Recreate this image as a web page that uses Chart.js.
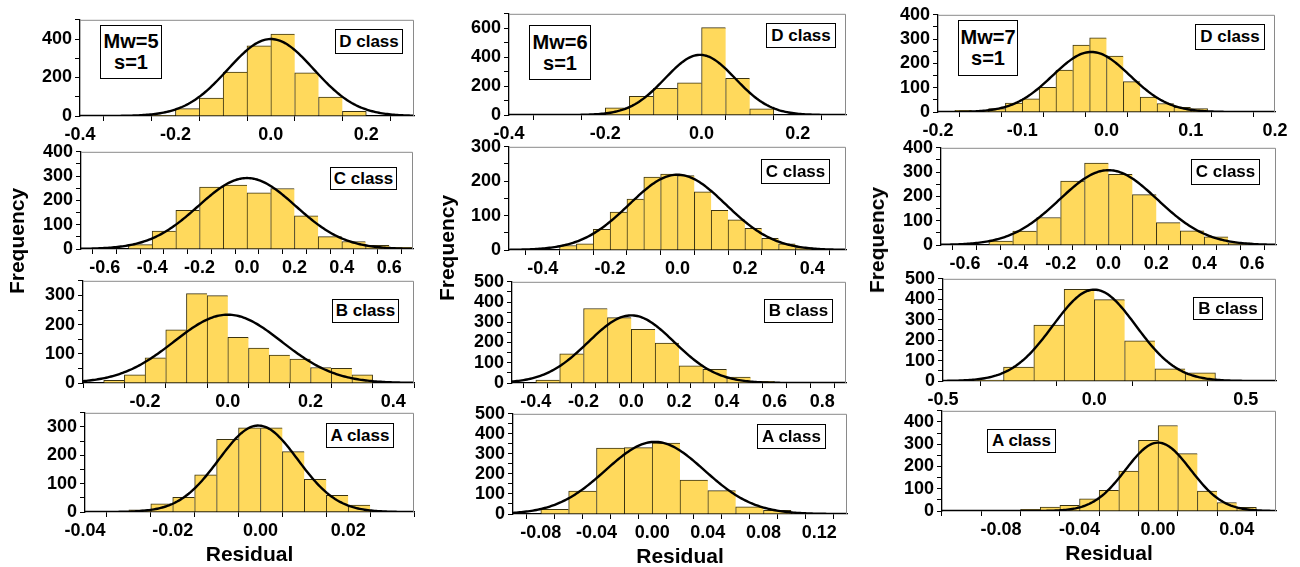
<!DOCTYPE html>
<html>
<head>
<meta charset="utf-8">
<script src="https://cdn.jsdelivr.net/npm/chart.js@4.4.1/dist/chart.umd.min.js"></script>
<style>
  body { margin: 0; background: #fff; overflow: hidden; }
  #page { position: relative; width: 1300px; height: 567px; font-family: 'Liberation Sans', Arial, sans-serif; font-weight: bold; color: #000; }
  canvas { position: absolute; }
  .tag { position: absolute; box-sizing: border-box; border: 1px solid #000; background: #fff; font-size: 17px;
         display: flex; align-items: center; justify-content: center; white-space: nowrap; }
  .mw { font-size: 20px; flex-direction: column; line-height: 21px; }
  .ylab { position: absolute; font-size: 21px; transform: translate(-50%, -50%) rotate(-90deg); white-space: nowrap; }
</style>
</head>
<body>
<div id="page">
  <div class="ylab" style="left:17px;top:241px">Frequency</div>
  <div class="ylab" style="left:447px;top:248px">Frequency</div>
  <div class="ylab" style="left:877px;top:240px">Frequency</div>

  <div class="tag mw" style="left:100px;top:25px;width:62px;height:54px"><span>Mw=5</span><span>s=1</span></div>
  <div class="tag mw" style="left:529px;top:25px;width:62px;height:55px"><span>Mw=6</span><span>s=1</span></div>
  <div class="tag mw" style="left:958px;top:20px;width:60px;height:56px"><span>Mw=7</span><span>s=1</span></div>

  <div class="tag" style="left:335px;top:29px;width:68px;height:25px">D class</div>
  <div class="tag" style="left:330px;top:167px;width:67px;height:23px">C class</div>
  <div class="tag" style="left:332px;top:299px;width:67px;height:24px">B class</div>
  <div class="tag" style="left:326px;top:423px;width:68px;height:25px">A class</div>

  <div class="tag" style="left:766px;top:23px;width:70px;height:25px">D class</div>
  <div class="tag" style="left:761px;top:159px;width:69px;height:25px">C class</div>
  <div class="tag" style="left:764px;top:299px;width:69px;height:24px">B class</div>
  <div class="tag" style="left:757px;top:424px;width:69px;height:25px">A class</div>

  <div class="tag" style="left:1195px;top:24px;width:70px;height:26px">D class</div>
  <div class="tag" style="left:1191px;top:159px;width:69px;height:26px">C class</div>
  <div class="tag" style="left:1193px;top:297px;width:70px;height:23px">B class</div>
  <div class="tag" style="left:987px;top:429px;width:69px;height:24px">A class</div>
</div>
<script>
// ================= DATA =================
// bin centres + counts, fit = [mean, sd, peak] of the normal curve

// Mw = 5
const mw5D_bins = [-0.225, -0.175, -0.125, -0.075, -0.025, 0.025, 0.075, 0.125, 0.175];
const mw5D_counts = [3, 38, 93, 228, 365, 426, 224, 98, 24];
const mw5D_fit = [0, 0.09, 400];

const mw5C_bins = [-0.55, -0.45, -0.35, -0.25, -0.15, -0.05, 0.05, 0.15, 0.25, 0.35, 0.45, 0.55, 0.65];
const mw5C_counts = [2, 18, 74, 159, 255, 263, 231, 249, 136, 51, 31, 15, 7];
const mw5C_fit = [0, 0.205, 292];

const mw5B_bins = [-0.275, -0.225, -0.175, -0.125, -0.075, -0.025, 0.025, 0.075, 0.125, 0.175, 0.225, 0.275, 0.325];
const mw5B_counts = [9, 28, 86, 182, 306, 299, 156, 120, 96, 82, 53, 50, 28];
const mw5B_fit = [0, 0.13, 234];

const mw5A_bins = [-0.0275, -0.0225, -0.0175, -0.0125, -0.0075, -0.0025, 0.0025, 0.0075, 0.0125, 0.0175, 0.0225, 0.0275];
const mw5A_counts = [8, 29, 52, 131, 256, 297, 297, 213, 115, 59, 24, 3];
const mw5A_fit = [-0.0005, 0.009, 305];

// Mw = 6
const mw6D_bins = [-0.175, -0.125, -0.075, -0.025, 0.025, 0.075, 0.125];
const mw6D_counts = [49, 130, 184, 222, 604, 254, 43];
const mw6D_fit = [-0.003, 0.073, 416];

const mw6C_bins = [-0.325, -0.275, -0.225, -0.175, -0.125, -0.075, -0.025, 0.025, 0.075, 0.125, 0.175, 0.225, 0.275, 0.325, 0.375];
const mw6C_counts = [13, 18, 60, 110, 148, 212, 221, 216, 169, 115, 88, 63, 34, 18, 7];
const mw6C_fit = [0, 0.143, 219];

const mw6B_bins = [-0.35, -0.25, -0.15, -0.05, 0.05, 0.15, 0.25, 0.35, 0.45, 0.55];
const mw6B_counts = [15, 144, 368, 323, 265, 197, 85, 68, 29, 8];
const mw6B_fit = [0, 0.18, 334];

const mw6A_bins = [-0.07, -0.05, -0.03, -0.01, 0.01, 0.03, 0.05, 0.07, 0.09, 0.11];
const mw6A_counts = [23, 114, 329, 331, 354, 169, 117, 36, 18, 3];
const mw6A_fit = [0.002, 0.0355, 360];

// Mw = 7
const mw7D_bins = [-0.17, -0.15, -0.13, -0.11, -0.09, -0.07, -0.05, -0.03, -0.01, 0.01, 0.03, 0.05, 0.07, 0.09, 0.11];
const mw7D_counts = [7, 3, 14, 37, 54, 102, 172, 275, 305, 230, 125, 61, 35, 19, 14];
const mw7D_fit = [-0.018, 0.046, 247];

const mw7C_bins = [-0.45, -0.35, -0.25, -0.15, -0.05, 0.05, 0.15, 0.25, 0.35, 0.45, 0.55];
const mw7C_counts = [16, 57, 113, 263, 337, 291, 207, 92, 58, 34, 9];
const mw7C_fit = [0, 0.205, 308];

const mw7B_bins = [-0.35, -0.25, -0.15, -0.05, 0.05, 0.15, 0.25, 0.35];
const mw7B_counts = [4, 68, 273, 448, 398, 197, 60, 40];
const mw7B_fit = [0, 0.137, 447];

const mw7A_bins = [-0.065, -0.055, -0.045, -0.035, -0.025, -0.015, -0.005, 0.005, 0.015, 0.025, 0.035, 0.045];
const mw7A_counts = [7, 18, 25, 55, 93, 179, 317, 384, 258, 89, 38, 16];
const mw7A_fit = [0, 0.0165, 307];

// ================= AXES =================
// x range, labelled x ticks, minor x step, decimals | y max, labelled y ticks, minor y step
const panels = [
  { id: 'mw5D', bins: mw5D_bins, counts: mw5D_counts, fit: mw5D_fit, x: [-0.4, 0.3], xTicks: [-0.4, -0.2, 0, 0.2], xMinor: 0.1, dp: 1, yMax: 500, yTicks: [0, 200, 400], yMinor: 100 },
  { id: 'mw5C', bins: mw5C_bins, counts: mw5C_counts, fit: mw5C_fit, x: [-0.7, 0.7], xTicks: [-0.6, -0.4, -0.2, 0, 0.2, 0.4, 0.6], xMinor: 0.1, dp: 1, yMax: 400, yTicks: [0, 100, 200, 300, 400], yMinor: 50 },
  { id: 'mw5B', bins: mw5B_bins, counts: mw5B_counts, fit: mw5B_fit, x: [-0.35, 0.45], xTicks: [-0.2, 0, 0.2, 0.4], xMinor: 0.1, dp: 1, yMax: 350, yTicks: [0, 100, 200, 300], yMinor: 50 },
  { id: 'mw5A', bins: mw5A_bins, counts: mw5A_counts, fit: mw5A_fit, x: [-0.04, 0.035], xTicks: [-0.04, -0.02, 0, 0.02], xMinor: 0.01, dp: 2, yMax: 350, yTicks: [0, 100, 200, 300], yMinor: 50, bottom: true },

  { id: 'mw6D', bins: mw6D_bins, counts: mw6D_counts, fit: mw6D_fit, x: [-0.4, 0.3], xTicks: [-0.4, -0.2, 0, 0.2], xMinor: 0.1, dp: 1, yMax: 700, yTicks: [0, 200, 400, 600], yMinor: 100 },
  { id: 'mw6C', bins: mw6C_bins, counts: mw6C_counts, fit: mw6C_fit, x: [-0.5, 0.5], xTicks: [-0.4, -0.2, 0, 0.2, 0.4], xMinor: 0.1, dp: 1, yMax: 300, yTicks: [0, 100, 200, 300], yMinor: 50 },
  { id: 'mw6B', bins: mw6B_bins, counts: mw6B_counts, fit: mw6B_fit, x: [-0.5, 0.9], xTicks: [-0.4, -0.2, 0, 0.2, 0.4, 0.6, 0.8], xMinor: 0.1, dp: 1, yMax: 500, yTicks: [0, 100, 200, 300, 400, 500], yMinor: 50 },
  { id: 'mw6A', bins: mw6A_bins, counts: mw6A_counts, fit: mw6A_fit, x: [-0.1, 0.14], xTicks: [-0.08, -0.04, 0, 0.04, 0.08, 0.12], xMinor: 0.02, dp: 2, yMax: 500, yTicks: [0, 100, 200, 300, 400, 500], yMinor: 50, bottom: true },

  { id: 'mw7D', bins: mw7D_bins, counts: mw7D_counts, fit: mw7D_fit, x: [-0.2, 0.2], xTicks: [-0.2, -0.1, 0, 0.1, 0.2], xMinor: 0.05, dp: 1, yMax: 400, yTicks: [0, 100, 200, 300, 400], yMinor: 50 },
  { id: 'mw7C', bins: mw7C_bins, counts: mw7C_counts, fit: mw7C_fit, x: [-0.7, 0.7], xTicks: [-0.6, -0.4, -0.2, 0, 0.2, 0.4, 0.6], xMinor: 0.1, dp: 1, yMax: 400, yTicks: [0, 100, 200, 300, 400], yMinor: 50 },
  { id: 'mw7B', bins: mw7B_bins, counts: mw7B_counts, fit: mw7B_fit, x: [-0.5, 0.6], xTicks: [-0.5, 0, 0.5], xMinor: 0.25, dp: 1, yMax: 500, yTicks: [0, 100, 200, 300, 400, 500], yMinor: 50 },
  { id: 'mw7A', bins: mw7A_bins, counts: mw7A_counts, fit: mw7A_fit, x: [-0.11, 0.06], xTicks: [-0.08, -0.04, 0, 0.04], xMinor: 0.02, dp: 2, yMax: 450, yTicks: [0, 100, 200, 300, 400], yMinor: 50, bottom: true }
];

// plot frame of each panel on the page: left, top, right, bottom
const frames = {
  mw5D: [80, 18, 414, 116],  mw5C: [81, 150, 413, 249],  mw5B: [83, 279, 414, 383],  mw5A: [85, 411, 414, 512],
  mw6D: [509, 12, 846, 115], mw6C: [509, 145, 846, 250], mw6B: [512, 280, 846, 383], mw6A: [513, 412, 847, 514],
  mw7D: [938, 13, 1275, 112], mw7C: [941, 146, 1276, 245], mw7B: [943, 277, 1276, 381], mw7A: [942, 409, 1276, 511]
};

const Y_AXIS_W = 48;
const PAD = { left: 2, right: 22, top: 12, bottom: 2 };
const FONT = { family: "'Liberation Sans', Arial, sans-serif", size: 18, weight: 'bold' };

// ================= HELPER =================
function near(v, list) {
  return list.some(t => Math.abs(t - v) < 1e-9);
}

function stepTicks(min, max, step) {
  const out = [];
  for (let k = Math.ceil(min / step - 1e-9); k * step <= max + 1e-9; k++) {
    out.push({ value: Math.round(k * step * 1e6) / 1e6 });
  }
  return out;
}

// normal fit drawn from the mean / sd / peak
function fitCurve(fit, xmin, xmax) {
  const [mu, sd, peak] = fit;
  const pts = [];
  for (let i = 0; i <= 200; i++) {
    const x = xmin + (xmax - xmin) * i / 200;
    pts.push({ x: x, y: peak * Math.exp(-0.5 * ((x - mu) / sd) ** 2) });
  }
  return pts;
}

// grey top/right edges of the box
const framePlugin = {
  id: 'frameBox',
  afterDraw(chart) {
    const { ctx, chartArea: a } = chart;
    ctx.save();
    ctx.strokeStyle = '#8a8a8a';
    ctx.lineWidth = 1;
    ctx.beginPath();
    ctx.moveTo(a.left, a.top + 0.5);
    ctx.lineTo(a.right - 0.5, a.top + 0.5);
    ctx.lineTo(a.right - 0.5, a.bottom);
    ctx.stroke();
    ctx.restore();
  }
};

// ================= CHARTS =================
const page = document.getElementById('page');

panels.forEach(p => {
  const [l, t, r, b] = frames[p.id];
  const xAxisH = p.bottom ? 56 : 28;

  const canvas = document.createElement('canvas');
  const w = (r - l) + Y_AXIS_W + PAD.left + PAD.right;
  const h = (b - t) + xAxisH + PAD.top + PAD.bottom;
  canvas.width = w;
  canvas.height = h;
  canvas.style.left = (l - Y_AXIS_W - PAD.left) + 'px';
  canvas.style.top = (t - PAD.top) + 'px';
  canvas.style.width = w + 'px';
  canvas.style.height = h + 'px';
  page.insertBefore(canvas, page.firstChild);

  const last = p.bins.length - 1;

  new Chart(canvas, {
    type: 'bar',
    data: {
      datasets: [
        {
          type: 'line',
          data: fitCurve(p.fit, p.x[0], p.x[1]),
          borderColor: '#000',
          borderWidth: 2.4,
          pointRadius: 0,
          tension: 0,
          order: 0
        },
        {
          type: 'bar',
          data: p.bins.map((c, i) => ({ x: c, y: p.counts[i] })),
          backgroundColor: '#FFD95C',
          borderColor: '#3b3310',
          borderWidth: c => c.dataIndex === last
            ? { top: 1, left: 1, right: 1, bottom: 0 }
            : { top: 1, left: 1, right: 0, bottom: 0 },
          barPercentage: 1,
          categoryPercentage: 1,
          order: 1
        }
      ]
    },
    options: {
      responsive: false,
      animation: false,
      layout: { padding: PAD },
      plugins: {
        legend: { display: false },
        tooltip: { enabled: false }
      },
      scales: {
        x: {
          type: 'linear',
          min: p.x[0],
          max: p.x[1],
          offset: false,
          z: 1,
          afterBuildTicks: s => { s.ticks = stepTicks(p.x[0], p.x[1], p.xMinor); },
          afterFit: s => { s.height = xAxisH; },
          grid: { drawOnChartArea: false, tickLength: 5, tickColor: '#000' },
          border: { color: '#000', width: 1.3 },
          ticks: {
            autoSkip: false,
            maxRotation: 0,
            minRotation: 0,
            padding: 3,
            color: '#000',
            font: FONT,
            callback: v => {
              if (!near(v, p.xTicks)) return '';
              return (Math.abs(v) < 1e-9 ? 0 : v).toFixed(p.dp);
            }
          },
          title: {
            display: !!p.bottom,
            text: 'Residual',
            color: '#000',
            padding: 0,
            font: { family: FONT.family, size: 21, weight: 'bold' }
          }
        },
        y: {
          min: 0,
          max: p.yMax,
          z: 1,
          afterBuildTicks: s => { s.ticks = stepTicks(0, p.yMax, p.yMinor); },
          afterFit: s => { s.width = Y_AXIS_W; },
          grid: { drawOnChartArea: false, tickLength: 5, tickColor: '#000' },
          border: { color: '#000', width: 1.3 },
          ticks: {
            autoSkip: false,
            padding: 3,
            color: '#000',
            font: FONT,
            callback: v => near(v, p.yTicks) ? String(Math.round(v)) : ''
          }
        }
      }
    },
    plugins: [framePlugin]
  });
});
</script>
</body>
</html>
